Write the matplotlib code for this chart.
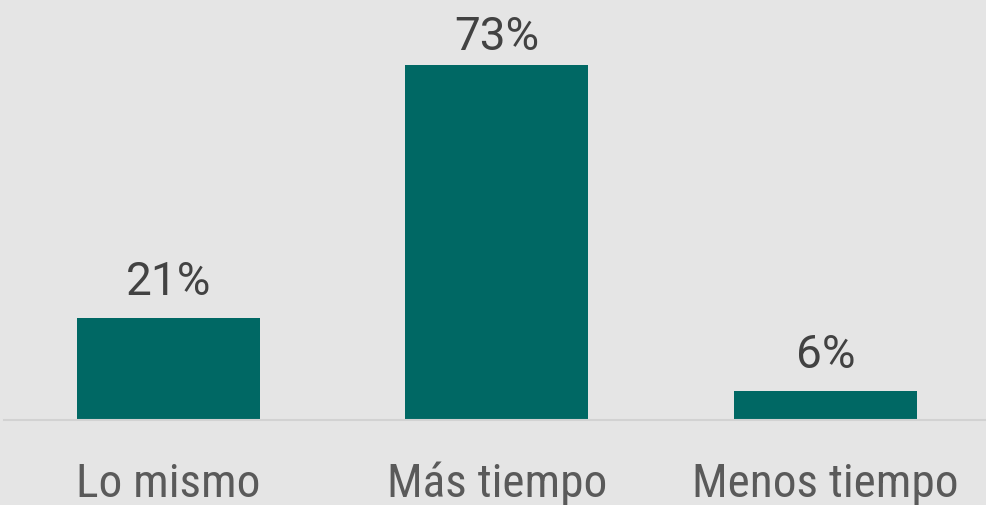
import matplotlib.pyplot as plt

categories = ["Lo mismo", "Más tiempo", "Menos tiempo"]
values = [21, 73, 6]
labels = ["21%", "73%", "6%"]

plt.rcParams['font.family'] = ['Roboto', 'DejaVu Sans']

bg = "#e5e5e5"
fig = plt.figure(figsize=(9.86, 5.05), dpi=100, facecolor=bg)
ax = fig.add_axes([4 / 986, 1 - 420 / 505, 982 / 986, 420 / 505])
ax.set_facecolor(bg)

x = list(range(len(categories)))
bars = ax.bar(x, values, width=0.557, color="#006864", zorder=2)
ax.set_xlim(-0.5, 2.489)
ax.set_ylim(0, 86.4)

for b, lab in zip(bars, labels):
    h = b.get_height()
    # labels near the top get squeezed closer to the bar
    off = 16.5 if h < 60 else 11
    ax.annotate(lab, (b.get_x() + b.get_width() / 2, h),
                xytext=(0, off), textcoords="offset points",
                ha="center", va="baseline", fontsize=33, color="#424242")

for i, cat in enumerate(categories):
    ax.annotate(cat, (i, 0), xytext=(0, -55.5), textcoords="offset points",
                ha="center", va="baseline", fontsize=34, color="#5a5a5a",
                family=['Roboto Condensed', 'Roboto'],
                annotation_clip=False)

for s in ["top", "right", "left"]:
    ax.spines[s].set_visible(False)
ax.spines["bottom"].set_color("#d2d2d2")
ax.spines["bottom"].set_linewidth(1.5)
ax.set_xticks([])
ax.set_yticks([])

fig.savefig("out.png", dpi=100, facecolor=bg)
